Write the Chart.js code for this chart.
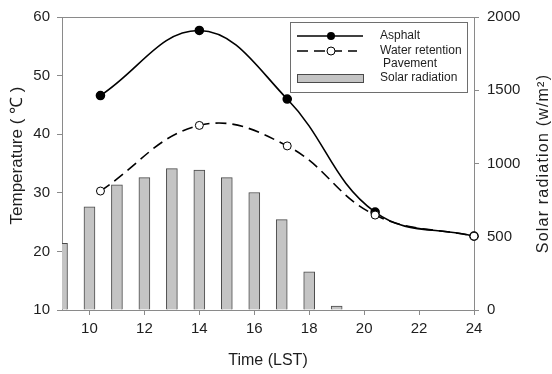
<!DOCTYPE html>
<html>
<head>
<meta charset="utf-8">
<script src="https://cdn.jsdelivr.net/npm/chart.js@4/dist/chart.umd.min.js"></script>
<style>
  html, body { margin: 0; padding: 0; background: #fff; }
  #wrap { position: relative; width: 552px; height: 374px; }
</style>
</head>
<body>
<div id="wrap"><canvas id="chart" width="552" height="374"></canvas></div>
<script>
// hourly solar radiation (w/m2), bars
const hours = [9, 10, 11, 12, 13, 14, 15, 16, 17, 18, 19];
const solar = [455, 705, 855, 904, 965, 955, 904, 802, 617, 260, 27];

// surface temperature observations (deg C)
const obsTimes = [10.4, 14, 17.2, 20.4, 24];
const asphalt = [46.6, 57.7, 46.0, 26.7, 22.6];
const waterPavement = [30.3, 41.5, 38.0, 26.2, 22.6];

const xTicks = [10, 12, 14, 16, 18, 20, 22, 24];
const legendLabels = ["Asphalt", "Water retention", "Pavement", "Solar radiation"];

const FONT = '"Liberation Sans", Arial, sans-serif';
const AXIS = "#8a8a8a";
const TEXT = "#1e1e1e";
const BAR_FILL = "#c4c4c4";
const BAR_EDGE = "#4a4a4a";

function pairs(xs, ys) {
  return xs.map(function (x, i) { return { x: x, y: ys[i] }; });
}

function verticalText(ctx, text, x, y, size, spacing) {
  ctx.save();
  ctx.translate(x, y);
  ctx.rotate(-Math.PI / 2);
  ctx.font = size + "px " + FONT;
  if (spacing) ctx.letterSpacing = spacing + "px";
  ctx.fillStyle = TEXT;
  ctx.textAlign = "center";
  ctx.textBaseline = "middle";
  ctx.fillText(text, 0, 0);
  ctx.restore();
}

const extras = {
  id: "extras",
  afterDraw: function (chart) {
    const ctx = chart.ctx;
    const a = chart.chartArea;
    ctx.save();

    // top frame line
    ctx.strokeStyle = AXIS;
    ctx.lineWidth = 1;
    ctx.beginPath();
    ctx.moveTo(a.left, a.top + 0.5);
    ctx.lineTo(a.right, a.top + 0.5);
    ctx.stroke();

    // axis titles, both reading bottom to top
    verticalText(ctx, "Temperature ( \u2103 )", chart.scales.y.left + 17, (a.top + a.bottom) / 2 - 8, 17, 0);
    verticalText(ctx, "Solar radiation (w/m\u00b2)", chart.scales.y2.right - 8, (a.top + a.bottom) / 2, 16, 1.2);

    // legend box
    const bw = 177, bh = 70;
    const bx = a.right - 7 - bw, by = a.top + 5;
    ctx.strokeStyle = "#6e6e6e";
    ctx.strokeRect(bx + 0.5, by + 0.5, bw, bh);

    const x0 = bx + 7, x1 = bx + 73, xc = bx + 41, tx = bx + 90;
    ctx.strokeStyle = "#000";
    ctx.lineWidth = 1.6;

    // asphalt
    let ry = by + 14;
    ctx.beginPath(); ctx.moveTo(x0, ry); ctx.lineTo(x1, ry); ctx.stroke();
    ctx.fillStyle = "#000";
    ctx.beginPath(); ctx.arc(xc, ry, 4, 0, Math.PI * 2); ctx.fill();

    // water retention pavement
    ry = by + 29;
    ctx.setLineDash([11, 6]);
    ctx.beginPath(); ctx.moveTo(x0, ry); ctx.lineTo(x1 - 6, ry); ctx.stroke();
    ctx.setLineDash([]);
    ctx.fillStyle = "#fff";
    ctx.lineWidth = 1;
    ctx.beginPath(); ctx.arc(xc, ry, 4, 0, Math.PI * 2); ctx.fill(); ctx.stroke();

    // solar radiation
    ry = by + 56;
    ctx.fillStyle = BAR_FILL;
    ctx.strokeStyle = BAR_EDGE;
    ctx.fillRect(x0, ry - 4, x1 - x0, 8);
    ctx.strokeRect(x0 + 0.5, ry - 4 + 0.5, x1 - x0, 8);

    ctx.font = "12px " + FONT;
    ctx.fillStyle = TEXT;
    ctx.textAlign = "left";
    ctx.textBaseline = "middle";
    ctx.fillText(legendLabels[0], tx, by + 14);
    ctx.fillText(legendLabels[1], tx, by + 29);
    ctx.fillText(legendLabels[2], tx + 3, by + 42);
    ctx.fillText(legendLabels[3], tx, by + 56);

    ctx.restore();
  }
};

const axisGrid = { drawOnChartArea: false, drawTicks: true, tickLength: 5, color: AXIS, offset: false };
const axisBorder = { color: AXIS, width: 1 };
const tickFont = { family: FONT, size: 15 };
const plain = function (v) { return String(v); };

new Chart(document.getElementById("chart"), {
  type: "bar",
  data: {
    datasets: [
      {
        type: "line", label: legendLabels[1], data: pairs(obsTimes, waterPavement), yAxisID: "y",
        borderColor: "#000", borderWidth: 1.6, borderDash: [11, 6], tension: 0.4,
        pointRadius: 4, pointBackgroundColor: "#fff", pointBorderColor: "#000", pointBorderWidth: 1,
        clip: false, order: 0
      },
      {
        type: "line", label: legendLabels[0], data: pairs(obsTimes, asphalt), yAxisID: "y",
        borderColor: "#000", backgroundColor: "#000", borderWidth: 1.6, tension: 0.4,
        pointRadius: 4, pointBackgroundColor: "#000", pointBorderColor: "#000", clip: false, order: 1
      },
      {
        type: "bar", label: legendLabels[3], data: pairs(hours, solar), yAxisID: "y2",
        backgroundColor: BAR_FILL, borderColor: BAR_EDGE, borderWidth: 1, barThickness: 11, order: 2
      }
    ]
  },
  options: {
    responsive: false,
    animation: false,
    layout: { padding: { top: 15, left: 0, right: 0, bottom: 0 } },
    plugins: { legend: { display: false }, tooltip: { enabled: false } },
    scales: {
      x: {
        type: "linear", min: 9, max: 24, offset: false,
        grid: axisGrid, border: axisBorder,
        afterBuildTicks: function (s) { s.ticks = xTicks.map(function (v) { return { value: v }; }); },
        afterFit: function (s) { s.height = 64; },
        ticks: { font: tickFont, color: TEXT, padding: 5, maxRotation: 0, callback: plain },
        title: { display: true, text: "Time (LST)", font: { family: FONT, size: 16 }, color: TEXT, padding: { top: 4 } }
      },
      y: {
        position: "left", min: 10, max: 60,
        grid: axisGrid, border: axisBorder,
        afterFit: function (s) { s.width = 62; },
        ticks: { stepSize: 10, font: tickFont, color: TEXT, padding: 7, callback: plain }
      },
      y2: {
        position: "right", min: 0, max: 2000,
        grid: axisGrid, border: axisBorder,
        afterFit: function (s) { s.width = 78; },
        ticks: { stepSize: 500, font: tickFont, color: TEXT, padding: 8, callback: plain }
      }
    }
  },
  plugins: [extras]
});
</script>
</body>
</html>
